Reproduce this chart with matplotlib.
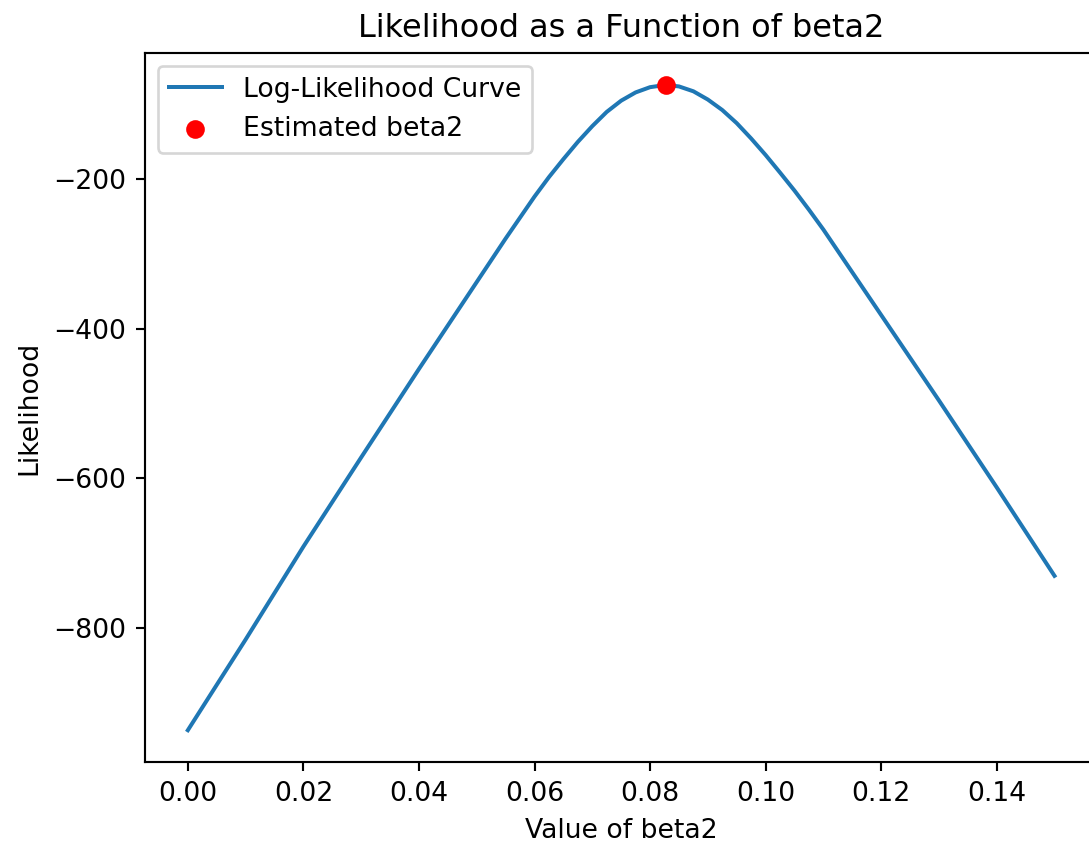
import matplotlib
matplotlib.use('Agg')
import matplotlib.pyplot as plt


# values (denser around the peak so the top stays round)
beta2_values = [0.000, 0.010, 0.020, 0.030, 0.040, 0.050, 0.0525, 0.055, 0.0575,
                0.060, 0.0625, 0.065, 0.0675, 0.070, 0.0725, 0.075, 0.0775, 0.080,
                0.0827, 0.085, 0.0875, 0.090, 0.0925, 0.095, 0.0975, 0.100, 0.1025,
                0.105, 0.1075, 0.110, 0.115, 0.120, 0.130, 0.140, 0.150]
log_likelihood = [-936, -815, -691, -572, -454, -338, -309, -280, -252,
                  -224, -198, -174, -151, -130, -111, -96, -85, -78,
                  -75, -77, -83.5, -94.5, -108.5, -126, -146.5, -168.5, -192,
                  -216, -241.5, -268, -325, -382, -496, -612, -730]

# maximum likelihood estimate
beta2_hat = 0.0827
likelihood_hat = -75


def make_plot():
    fig = plt.figure(figsize=(1089 / 192, 844 / 192), dpi=192)
    # the reference is cropped on the right, so the axes run past the figure edge
    ax = fig.add_axes([0.1327, 0.0966, 0.8754, 0.8410])

    ax.plot(beta2_values, log_likelihood, label='Log-Likelihood Curve')
    ax.scatter([beta2_hat], [likelihood_hat], color='red', label='Estimated beta2', zorder=3)

    ax.set_title('Likelihood as a Function of beta2')
    ax.set_xlabel('Value of beta2')
    ax.set_ylabel('Likelihood')
    ax.legend(loc='upper left')
    return fig


def main():
    fig = make_plot()
    fig.savefig('out.png', dpi=192)


if __name__ == '__main__':
    main()
